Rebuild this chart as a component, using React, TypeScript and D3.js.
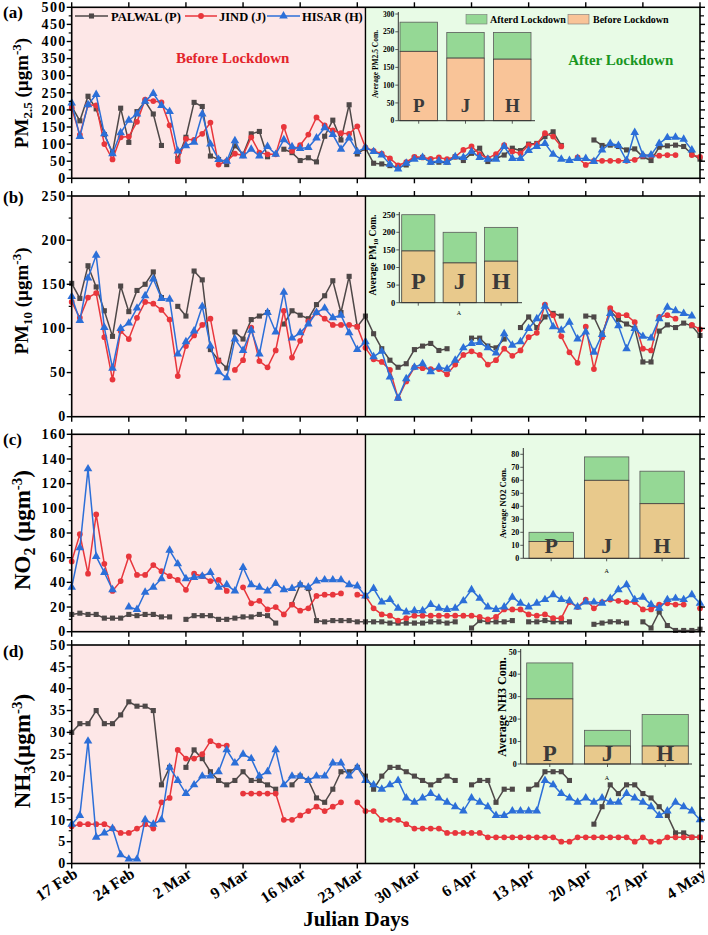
import React from 'react';
import * as d3 from 'd3';

type Num = number | null;

const FONT = "'Liberation Serif','Times New Roman',Times,serif";

// ---------- data ----------
const X_TICK_LABELS = ['17 Feb', '24 Feb', '2 Mar', '9 Mar', '16 Mar', '23 Mar', '30 Mar', '6 Apr', '13 Apr', '20 Apr', '27 Apr', '4 May'];
const TOTAL_DAYS = 77;
const LOCKDOWN_DAY = 36;
const SERIES_NAMES = ['PALWAL (P)', 'JIND (J)', 'HISAR (H)'];
const STATION_LETTERS = ['P', 'J', 'H'];

const PM25_PALWAL: Num[] = [210,168,240,203,128,75,205,105,195,225,188,96,null,58,120,222,210,65,55,40,95,70,130,137,63,null,85,75,52,60,48,123,170,112,215,71,88,44,42,37,32,39,61,61,47,47,47,63,52,73,88,49,58,68,88,81,100,102,122,136,96,null,null,null,112,96,97,93,83,86,63,52,91,95,97,93,71,56];
const PM25_JIND: Num[] = [205,127,215,213,100,55,120,122,165,230,226,222,155,50,115,112,130,163,40,50,72,67,120,75,70,70,150,80,97,128,178,155,140,132,130,152,90,80,72,58,38,47,63,61,57,61,56,63,83,93,71,58,71,97,78,73,97,100,132,122,93,null,61,39,51,51,51,51,51,54,66,66,66,68,68,null,68,63];
const PM25_HISAR: Num[] = [220,122,215,245,130,72,133,170,188,225,248,213,195,80,95,105,188,100,55,50,110,65,85,65,93,70,113,92,87,90,118,148,128,85,118,78,90,78,68,41,27,44,56,61,47,51,47,63,61,78,61,56,56,93,58,58,81,93,102,70,56,52,58,58,49,83,102,96,52,134,68,68,102,119,120,114,83,null];

const PM10_PALWAL: Num[] = [151,134,171,147,120,91,148,119,143,150,164,135,null,125,114,165,155,76,64,55,96,88,110,114,118,null,105,120,115,111,127,137,154,118,159,102,114,94,77,64,56,60,76,80,83,75,77,null,null,89,89,80,78,88,null,101,113,101,113,117,114,null,null,114,113,93,120,110,105,100,62,62,97,104,101,106,103,92];
const PM10_JIND: Num[] = [130,112,135,140,90,42,97,88,112,130,128,121,110,46,80,92,104,111,63,null,53,64,101,63,56,75,120,67,86,108,118,111,104,104,104,102,78,65,62,53,21,40,56,55,54,54,48,59,70,74,70,59,64,77,69,75,90,95,127,115,91,73,61,102,54,90,123,115,115,107,77,75,113,115,111,null,104,99];
const PM10_HISAR: Num[] = [136,109,157,183,101,55,100,106,123,137,156,134,133,71,85,97,125,80,51,44,88,75,98,71,118,96,141,89,95,105,118,123,112,115,95,76,85,68,74,45,21,43,56,60,51,56,54,64,78,83,84,78,72,94,81,85,100,111,125,102,98,107,88,96,73,93,117,103,77,100,91,89,111,124,120,117,114,null];

const NO2_PALWAL: Num[] = [14,15,14,14,11,11,11,14,13,14,14,12,12,null,10,13,13,13,10,10,11,12,12,14,13,7,null,22,38,35,9,8,9,9,9,8,8,8,8,7,7,7,7,7,8,8,7,8,null,3,9,8,8,8,9,null,8,8,9,8,8,8,null,null,6,7,8,8,7,null,8,3,16,5,1,1,1,2];
const NO2_JIND: Num[] = [57,79,47,95,55,33,41,61,46,46,54,49,45,42,34,47,45,41,42,33,null,36,23,25,18,20,14,22,17,19,29,30,30,31,null,30,29,19,14,13,9,11,13,13,13,13,13,13,13,13,12,10,12,18,18,18,14,13,14,11,11,24,20,26,19,24,26,25,24,24,18,18,22,23,22,22,null,19];
const NO2_HISAR: Num[] = [36,68,132,61,48,34,null,20,18,32,36,43,66,55,43,44,45,48,36,38,33,52,38,36,33,39,34,35,38,36,41,42,42,42,38,37,29,35,24,26,19,16,17,17,22,19,18,19,25,34,27,20,18,20,28,23,20,23,26,30,26,25,20,24,24,23,27,34,38,26,28,22,19,26,27,26,30,23];

const NH3_PALWAL: Num[] = [30,32,32,35,32,32,34,37,36,36,35,18,22,null,22,26,24,21,19,18,19,21,19,19,18,17,null,18,20,19,15,14,17,21,21,22,20,17,20,22,22,21,20,19,18,19,20,19,null,18,19,19,14,17,17,null,17,18,21,21,21,19,null,null,9,13,18,16,18,18,16,15,13,11,7,7,6,6];
const NH3_JIND: Num[] = [8.5,9,9,9,9,8,7,7,8,9,8,14,15,26,24,24,25,28,27,27,null,16,16,16,16,16,10,10,11,12,13,12,13,14,null,14,12,12,10,10,10,9,8,8,8,8,7,7,7,7,7,6,6,6,6,6,6,6,6,6,5,5,6,6,6,6,6,6,6,5,6,5,5,6,6,6,6,6];
const NH3_HISAR: Num[] = [9,11,28,6,7,8,2,1,1,10,9,10,22,19,16,18,20,20,21,26,23,25,24,20,21,26,18,20,20,19,20,20,23,23,20,22,19,18,17,18,19,15,14,15,16,15,14,13,12,15,14,13,11,11,12,12,12,12,19,18,16,15,14,15,14,15,14,14,16,15,14,13,11,12,14,13,12,10];

// inset averages (before lockdown, additional stacked after lockdown)
const PM25_AVG_BEFORE = [195, 176, 173];
const PM25_AVG_AFTER = [82, 72, 75];
const PM10_AVG_BEFORE = [147, 113, 118];
const PM10_AVG_AFTER = [103, 87, 96];
const NO2_AVG_BEFORE = [13, 60, 42];
const NO2_AVG_AFTER = [7, 18, 25];
const NH3_AVG_BEFORE = [29, 8, 8];
const NH3_AVG_AFTER = [16, 7, 14];

// ---------- styles ----------
const COLORS = ['#4e4848', '#e8363c', '#2c6fd8'];
const PINK = '#fde7e7';
const GREEN_BG = '#e8fbe6';
const AFTER_BAR = '#95d895';

const X0 = 71.7;
const X1 = 700;
const x = d3.scaleLinear().domain([0, TOTAL_DAYS]).range([X0, X1]);

const SQUARE = d3.symbol().type(d3.symbolSquare).size(26)() as string;
const CIRCLE = d3.symbol().type(d3.symbolCircle).size(26)() as string;
const TRIANGLE = d3.symbol().type(d3.symbolTriangle).size(32)() as string;
const MARKERS = [SQUARE, CIRCLE, TRIANGLE];

interface PanelCfg {
  top: number; bottom: number; max: number; step: number; minor: number;
  label: string; labelY: number; title: React.ReactNode;
  series: Num[][];
}

const PANELS: PanelCfg[] = [
  {
    top: 7.3, bottom: 178.3, max: 500, step: 50, minor: 25, label: '(a)', labelY: 18,
    title: (
      <text transform="translate(28,93) rotate(-90)" textAnchor="middle" fontSize={19} fontWeight="bold">
        PM<tspan dy={4} fontSize={13}>2.5</tspan><tspan dy={-4}> (µgm</tspan><tspan dy={-7} fontSize={13}>-3</tspan><tspan dy={7}>)</tspan>
      </text>
    ),
    series: [PM25_PALWAL, PM25_JIND, PM25_HISAR],
  },
  {
    top: 196, bottom: 416.7, max: 250, step: 50, minor: 25, label: '(b)', labelY: 203,
    title: (
      <text transform="translate(28,301) rotate(-90)" textAnchor="middle" fontSize={19} fontWeight="bold">
        PM<tspan dy={4} fontSize={13}>10</tspan><tspan dy={-4}> (µgm</tspan><tspan dy={-7} fontSize={13}>-3</tspan><tspan dy={7}>)</tspan>
      </text>
    ),
    series: [PM10_PALWAL, PM10_JIND, PM10_HISAR],
  },
  {
    top: 434.3, bottom: 631.7, max: 160, step: 20, minor: 10, label: '(c)', labelY: 445,
    title: (
      <text transform="translate(30,530) rotate(-90)" textAnchor="middle" fontSize={23} fontWeight="bold">
        NO<tspan dy={5} fontSize={16}>2</tspan><tspan dy={-5}> (µgm</tspan><tspan dy={-8} fontSize={15}>-3</tspan><tspan dy={8}>)</tspan>
      </text>
    ),
    series: [NO2_PALWAL, NO2_JIND, NO2_HISAR],
  },
  {
    top: 645, bottom: 863.5, max: 50, step: 5, minor: 2.5, label: '(d)', labelY: 657,
    title: (
      <text transform="translate(30,751) rotate(-90)" textAnchor="middle" fontSize={23} fontWeight="bold">
        NH<tspan dy={5} fontSize={16}>3</tspan><tspan dy={-5}>(µgm</tspan><tspan dy={-8} fontSize={15}>-3</tspan><tspan dy={8}>)</tspan>
      </text>
    ),
    series: [NH3_PALWAL, NH3_JIND, NH3_HISAR],
  },
];

function Panel({ p, last }: { p: PanelCfg; last: boolean }) {
  const y = d3.scaleLinear().domain([0, p.max]).range([p.bottom, p.top]);
  const lx = x(LOCKDOWN_DAY);
  const majors = d3.range(0, p.max + 1e-9, p.step);
  const minors = d3.range(p.minor, p.max, p.step);
  const weekTicks = X_TICK_LABELS.map((_, i) => i * 7);
  const line = d3.line<Num>()
    .defined((v) => v != null)
    .x((_, i) => x(i))
    .y((v) => y(v as number));
  return (
    <g>
      <rect x={X0} y={p.top} width={lx - X0} height={p.bottom - p.top} fill={PINK} />
      <rect x={lx} y={p.top} width={X1 - lx} height={p.bottom - p.top} fill={GREEN_BG} />
      {p.series.map((s, si) => (
        <g key={si}>
          <path d={line(s) || ''} fill="none" stroke={COLORS[si]} strokeWidth={1.5} />
          {s.map((v, i) => v == null ? null : (
            <path key={i} d={MARKERS[si]} transform={`translate(${x(i)},${y(v)})`} fill={COLORS[si]} />
          ))}
        </g>
      ))}
      <line x1={lx} x2={lx} y1={p.top} y2={p.bottom} stroke="#000" strokeWidth={1.4} />
      <rect x={X0} y={p.top} width={X1 - X0} height={p.bottom - p.top} fill="none" stroke="#000" strokeWidth={1.6} />
      {majors.map((v) => (
        <g key={'m' + v}>
          <line x1={X0 - 5} x2={X0} y1={y(v)} y2={y(v)} stroke="#000" strokeWidth={1.4} />
          <line x1={X1} x2={X1 + 5} y1={y(v)} y2={y(v)} stroke="#000" strokeWidth={1.4} />
          <text x={X0 - 5} y={y(v)} dy="0.34em" textAnchor="end" fontSize={14} fontWeight="bold" letterSpacing={1.4}>{v}</text>
        </g>
      ))}
      {minors.map((v) => (
        <g key={'n' + v}>
          <line x1={X0 - 3} x2={X0} y1={y(v)} y2={y(v)} stroke="#000" strokeWidth={1.2} />
          <line x1={X1} x2={X1 + 4} y1={y(v)} y2={y(v)} stroke="#000" strokeWidth={1.2} />
        </g>
      ))}
      {weekTicks.map((d) => (
        <g key={'w' + d}>
          <line x1={x(d)} x2={x(d)} y1={p.top - 5} y2={p.top} stroke="#000" strokeWidth={1.4} />
          <line x1={x(d)} x2={x(d)} y1={p.bottom} y2={p.bottom + 5} stroke="#000" strokeWidth={1.4} />
        </g>
      ))}
      {last && weekTicks.map((d, i) => (
        <text key={'l' + d} transform={`translate(${x(d) + 7},${p.bottom + 13}) rotate(-33)`} textAnchor="end" fontSize={16} fontWeight="bold">{X_TICK_LABELS[i]}</text>
      ))}
      <text x={3} y={p.labelY} fontSize={17} fontWeight="bold">{p.label}</text>
      {p.title}
    </g>
  );
}

interface InsetCfg {
  axisX: number; y0: number; refVal: number; refY: number; tickMax: number; axisTop: number; step: number;
  bars: [number, number]; axisRight: number; tickFont: number; labelX: number; labelY: number;
  label: React.ReactNode; letterSize: number; letterBase: number; before: number[]; after: number[];
  beforeColor: string; aPos?: [number, number];
}

const INSETS: InsetCfg[] = [
  {
    axisX: 398.3, y0: 120.7, refVal: 300, refY: 14, tickMax: 300, axisTop: 12, step: 50, bars: [400, 531], axisRight: 535,
    tickFont: 7.5, labelX: 378, labelY: 64,
    label: <tspan fontSize={7.5}>Average PM2.5 Com.</tspan>,
    letterSize: 19, letterBase: 111.7, before: PM25_AVG_BEFORE, after: PM25_AVG_AFTER, beforeColor: '#f9c498',
  },
  {
    axisX: 399.3, y0: 302.7, refVal: 200, refY: 232.3, tickMax: 250, axisTop: 212, step: 50, bars: [401.7, 517.7], axisRight: 522,
    tickFont: 8.5, labelX: 376, labelY: 255,
    label: <tspan fontSize={9.5}>Average PM<tspan dy={2} fontSize={6.5}>10</tspan><tspan dy={-2}> Com.</tspan></tspan>,
    letterSize: 24, letterBase: 289, before: PM10_AVG_BEFORE, after: PM10_AVG_AFTER, beforeColor: '#e8c98c', aPos: [459, 315],
  },
  {
    axisX: 523.3, y0: 558.3, refVal: 80, refY: 454.3, tickMax: 80, axisTop: 448, step: 10, bars: [529, 684.3], axisRight: 689.3,
    tickFont: 8, labelX: 506, labelY: 503,
    label: <tspan fontSize={8.5}>Average NO2 Com.</tspan>,
    letterSize: 22, letterBase: 553.3, before: NO2_AVG_BEFORE, after: NO2_AVG_AFTER, beforeColor: '#e8c98c', aPos: [606.7, 572.5],
  },
  {
    axisX: 520.7, y0: 764, refVal: 50, refY: 651.7, tickMax: 50, axisTop: 649, step: 10, bars: [526.7, 688.3], axisRight: 692,
    tickFont: 8, labelX: 506, labelY: 707,
    label: <tspan fontSize={12}>Average NH3 Com.</tspan>,
    letterSize: 23, letterBase: 760.7, before: NH3_AVG_BEFORE, after: NH3_AVG_AFTER, beforeColor: '#e8c98c', aPos: [607, 780],
  },
];

function Inset({ c }: { c: InsetCfg }) {
  const y = d3.scaleLinear().domain([0, c.refVal]).range([c.y0, c.refY]);
  const xb = d3.scaleBand<string>().domain(STATION_LETTERS).range(c.bars).paddingInner(0.2).paddingOuter(0);
  const ticks = d3.range(0, c.tickMax + 1e-9, c.step);
  return (
    <g>
      {STATION_LETTERS.map((k, i) => {
        const b = c.before[i];
        const a = c.after[i];
        const bx = xb(k) as number;
        return (
          <g key={k}>
            <rect x={bx} y={y(b + a)} width={xb.bandwidth()} height={y(b) - y(b + a)} fill={AFTER_BAR} stroke="#5a5a5a" strokeWidth={0.8} />
            <rect x={bx} y={y(b)} width={xb.bandwidth()} height={c.y0 - y(b)} fill={c.beforeColor} stroke="#3a3a3a" strokeWidth={0.8} />
            <text x={bx + xb.bandwidth() / 2} y={c.letterBase} textAnchor="middle" fontSize={c.letterSize} fontWeight="bold" fill="#3a3a3a">{k}</text>
            <line x1={bx + xb.bandwidth() / 2} x2={bx + xb.bandwidth() / 2} y1={c.y0} y2={c.y0 + 3} stroke="#333" strokeWidth={0.8} />
          </g>
        );
      })}
      <line x1={c.axisX} x2={c.axisX} y1={c.axisTop} y2={c.y0} stroke="#333" strokeWidth={1} />
      <line x1={c.axisX} x2={c.axisRight} y1={c.y0} y2={c.y0} stroke="#333" strokeWidth={1} />
      {ticks.map((v) => (
        <g key={v}>
          <line x1={c.axisX - 3} x2={c.axisX} y1={y(v)} y2={y(v)} stroke="#333" strokeWidth={0.8} />
          <text x={c.axisX - 4} y={y(v)} dy="0.35em" textAnchor="end" fontSize={c.tickFont} fontWeight="bold">{v}</text>
        </g>
      ))}
      <text transform={`translate(${c.labelX},${c.labelY}) rotate(-90)`} textAnchor="middle" fontWeight="bold">{c.label}</text>
      {c.aPos && <text x={c.aPos[0]} y={c.aPos[1]} fontSize={6} textAnchor="middle">A</text>}
    </g>
  );
}

export default function App() {
  return (
    <svg width={708} height={935} style={{ position: 'absolute', left: 0, top: 0 }} fontFamily={FONT}>
      <rect width={708} height={935} fill="#fff" />
      {PANELS.map((p, i) => <Panel key={i} p={p} last={i === PANELS.length - 1} />)}
      {INSETS.map((c, i) => <Inset key={i} c={c} />)}
      {[
        { x1: 75, x2: 108, tx: 111 },
        { x1: 185, x2: 217, tx: 219 },
        { x1: 267, x2: 300, tx: 302 },
      ].map((l, i) => (
        <g key={i}>
          <line x1={l.x1} x2={l.x2} y1={16} y2={16} stroke={COLORS[i]} strokeWidth={1.5} />
          <path d={MARKERS[i]} transform={`translate(${(l.x1 + l.x2) / 2},16)`} fill={COLORS[i]} />
          <text x={l.tx} y={20.5} fontSize={12.5} fontWeight="bold">{SERIES_NAMES[i]}</text>
        </g>
      ))}
      <rect x={466} y={14.5} width={21} height={9.5} fill={AFTER_BAR} stroke="#777" strokeWidth={0.6} />
      <text x={490} y={23} fontSize={10} fontWeight="bold">Afterd Lockdown</text>
      <rect x={568} y={14.5} width={21} height={9.5} fill="#f9c498" stroke="#777" strokeWidth={0.6} />
      <text x={593} y={23} fontSize={10} fontWeight="bold">Before Lockdown</text>
      <text x={232.7} y={63} textAnchor="middle" fontSize={15} fontWeight="bold" fill="#e3242b">Before Lockdown</text>
      <text x={620.7} y={65} textAnchor="middle" fontSize={15} fontWeight="bold" fill="#19961f">After Lockdown</text>
      <text x={356} y={926} textAnchor="middle" fontSize={21} fontWeight="bold">Julian Days</text>
    </svg>
  );
}
